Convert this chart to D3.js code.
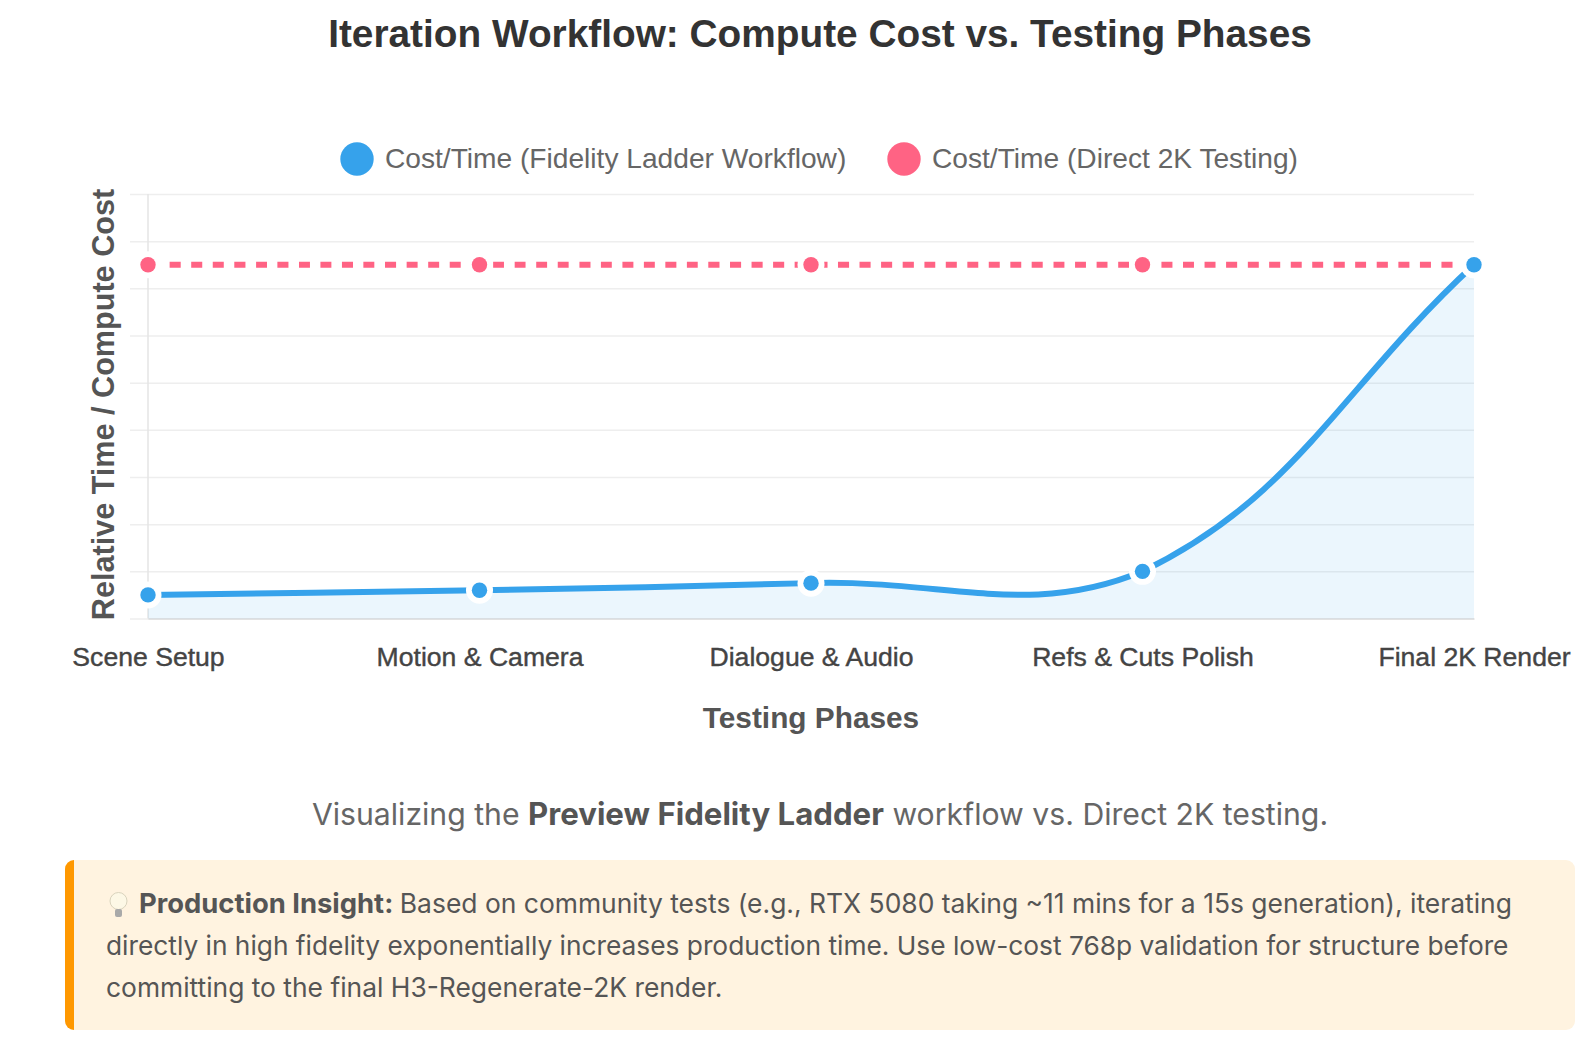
<!DOCTYPE html>
<html>
<head>
<meta charset="utf-8">
<script src="https://cdn.jsdelivr.net/npm/d3@7"></script>
<style>
  html, body { margin: 0; padding: 0; background: #fff; }
  svg { display: block; }
  text { font-family: "Liberation Sans", Arial, sans-serif; }
  .note { font-family: Inter, sans-serif; }
</style>
</head>
<body>
<div id="chart"></div>
<script>
// Load data
const phases = ["Scene Setup", "Motion & Camera", "Dialogue & Audio", "Refs & Cuts Polish", "Final 2K Render"];
const fidelityCost = [5, 6, 7.5, 10, 75];
const directCost = [75, 75, 75, 75, 75];
const yTicks = [0, 10, 20, 30, 40, 50, 60, 70, 80, 90];
const legendLabels = ["Cost/Time (Fidelity Ladder Workflow)", "Cost/Time (Direct 2K Testing)"];

const blue = "#36a2eb", pink = "#ff6384";
const width = 1586, height = 1054;

const svg = d3.select("#chart")
  .append("svg").attr("width", width).attr("height", height);

const x = d3.scalePoint().domain(phases).range([148, 1474]);
const y = d3.scaleLinear().domain([0, 90]).range([618.5, 194]);

// tension 0.4 bezier spline, control points kept inside the plot area
function spline(context) {
  let pts = [], inArea = false, second = false;
  const capY = v => Math.min(v, y(0));
  return {
    areaStart() { inArea = true; second = false; },
    areaEnd() { context.closePath(); inArea = false; },
    lineStart() { pts = []; },
    point(px, py) { pts.push([+px, +py]); },
    lineEnd() {
      const t = 0.4, n = pts.length;
      const ctrl = pts.map((p, i) => {
        const a = pts[Math.max(i - 1, 0)], b = pts[Math.min(i + 1, n - 1)];
        const d1 = Math.hypot(p[0] - a[0], p[1] - a[1]);
        const d2 = Math.hypot(b[0] - p[0], b[1] - p[1]);
        const s = d1 + d2 || 1;
        return {
          prev: [p[0] - t * d1 / s * (b[0] - a[0]), capY(p[1] - t * d1 / s * (b[1] - a[1]))],
          next: [p[0] + t * d2 / s * (b[0] - a[0]), capY(p[1] + t * d2 / s * (b[1] - a[1]))]
        };
      });
      if (second) context.lineTo(pts[0][0], pts[0][1]);
      else context.moveTo(pts[0][0], pts[0][1]);
      for (let i = 1; i < n; i++) {
        context.bezierCurveTo(ctrl[i - 1].next[0], ctrl[i - 1].next[1], ctrl[i].prev[0], ctrl[i].prev[1], pts[i][0], pts[i][1]);
      }
      if (inArea) second = true;
    }
  };
}

// ==== Title ====
svg.append("text")
  .attr("x", 820).attr("y", 47)
  .attr("text-anchor", "middle")
  .attr("font-size", 38.8).attr("font-weight", 700).attr("fill", "#333")
  .text("Iteration Workflow: Compute Cost vs. Testing Phases");

// ==== Legend ====
const legendX = [357, 904];
legendLabels.forEach((label, i) => {
  svg.append("circle").attr("cx", legendX[i]).attr("cy", 159).attr("r", 16.7)
    .attr("fill", i === 0 ? blue : pink);
  svg.append("text").attr("x", legendX[i] + 28).attr("y", 167.5)
    .attr("font-size", 28.15).attr("fill", "#666").text(label);
});

// ==== Axes ====
const yAxis = svg.append("g")
  .attr("transform", "translate(148,0)")
  .call(d3.axisLeft(y).tickValues(yTicks).tickSize(-1326).tickPadding(0).tickFormat(""));
yAxis.select(".domain").remove();
yAxis.selectAll("line").attr("stroke", "#eee").attr("stroke-width", 1.5).attr("x1", -18).attr("x2", 1326);

svg.append("line").attr("x1", 148).attr("x2", 148).attr("y1", 194).attr("y2", 618.5)
  .attr("stroke", "#e4e4e4").attr("stroke-width", 1.5);

const xAxis = svg.append("g")
  .attr("transform", "translate(0,618.5)")
  .call(d3.axisBottom(x).tickSize(0).tickPadding(28.7));
xAxis.select(".domain").attr("stroke", "#ddd").attr("stroke-width", 1.5);
xAxis.selectAll("text")
  .attr("font-size", 26.6).attr("font-weight", 400).attr("fill", "#444")
  .attr("font-family", "'Liberation Sans', Arial, sans-serif")
  .attr("stroke", "#444").attr("stroke-width", 0.4);

svg.append("text")
  .attr("x", 811).attr("y", 728).attr("text-anchor", "middle")
  .attr("font-size", 29.8).attr("font-weight", 700).attr("fill", "#555")
  .text("Testing Phases");

svg.append("text")
  .attr("transform", "translate(114,404.5) rotate(-90)")
  .attr("text-anchor", "middle")
  .attr("font-size", 30.6).attr("font-weight", 700).attr("fill", "#555")
  .text("Relative Time / Compute Cost");

// ==== Series ====
const area = d3.area().x((d, i) => x(phases[i])).y0(y(0)).y1(d => y(d)).curve(spline);
const line = d3.line().x((d, i) => x(phases[i])).y(d => y(d)).curve(spline);

svg.append("path").datum(fidelityCost)
  .attr("d", area).attr("fill", blue).attr("fill-opacity", 0.1);

svg.append("path").datum(directCost)
  .attr("d", line).attr("fill", "none").attr("stroke", pink)
  .attr("stroke-width", 6).attr("stroke-dasharray", "11 10.56");

svg.append("path").datum(fidelityCost)
  .attr("d", line).attr("fill", "none").attr("stroke", blue).attr("stroke-width", 6);

function points(cls, values, color) {
  svg.selectAll("." + cls + "-halo").data(values).join("circle")
    .attr("class", cls + "-halo")
    .attr("cx", (d, i) => x(phases[i])).attr("cy", d => y(d))
    .attr("r", 13.5).attr("fill", "#fff");
  svg.selectAll("." + cls).data(values).join("circle")
    .attr("class", cls)
    .attr("cx", (d, i) => x(phases[i])).attr("cy", d => y(d))
    .attr("r", 7.7).attr("fill", color);
}
points("direct", directCost, pink);
points("fidelity", fidelityCost, blue);

// ==== Caption ====
const caption = svg.append("text").attr("class", "note")
  .attr("x", 820).attr("y", 825).attr("text-anchor", "middle")
  .attr("font-size", 30.2).attr("fill", "#666");
caption.append("tspan").text("Visualizing the ");
caption.append("tspan").attr("font-size", 31.2).attr("font-weight", 700).attr("fill", "#555").text("Preview Fidelity Ladder");
caption.append("tspan").text(" workflow vs. Direct 2K testing.");

// ==== Insight box ====
svg.append("clipPath").attr("id", "box")
  .append("rect").attr("x", 65).attr("y", 860).attr("width", 1510).attr("height", 170).attr("rx", 9);
const box = svg.append("g").attr("clip-path", "url(#box)");
box.append("rect").attr("x", 65).attr("y", 860).attr("width", 1510).attr("height", 170).attr("fill", "#fff3e0");
box.append("rect").attr("x", 65).attr("y", 860).attr("width", 9).attr("height", 170).attr("fill", "#ff9800");

// bulb icon
const bulb = svg.append("g").attr("transform", "translate(118.5,901)");
bulb.append("circle").attr("r", 8.5).attr("fill", "#fdf8e6").attr("stroke", "#d9d3bd").attr("stroke-width", 1);
bulb.append("rect").attr("x", -3.5).attr("y", 8).attr("width", 7).attr("height", 8).attr("rx", 2).attr("fill", "#a9a9a9");

const insightLines = [
  "Based on community tests (e.g., RTX 5080 taking ~11 mins for a 15s generation), iterating",
  "directly in high fidelity exponentially increases production time. Use low-cost 768p validation for structure before",
  "committing to the final H3-Regenerate-2K render."
];
const first = svg.append("text").attr("class", "note")
  .attr("x", 139).attr("y", 912.5).attr("font-size", 26.45).attr("fill", "#555");
first.append("tspan").attr("font-size", 27.4).attr("font-weight", 700).text("Production Insight: ");
first.append("tspan").text(insightLines[0]);
insightLines.slice(1).forEach((t, i) => {
  svg.append("text").attr("class", "note")
    .attr("x", 106).attr("y", 955 + i * 42).attr("font-size", i === 0 ? 26.3 : 26.4).attr("fill", "#555").text(t);
});
</script>
</body>
</html>
